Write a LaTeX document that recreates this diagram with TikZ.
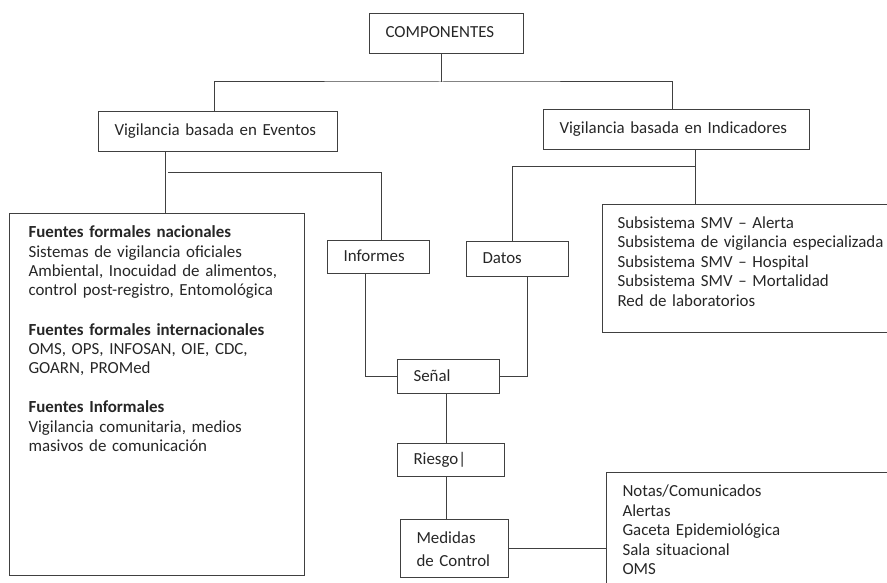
\documentclass[tikz,border=0pt]{standalone}
\usepackage{fontspec}
\setmainfont{Carlito}
\usepackage{tikz}

\begin{document}
\begin{tikzpicture}[x=1pt, y=-1pt, line width=1pt, color=black!75,
every node/.style={font=\fontsize{16.9pt}{19.5pt}\selectfont, text=black!85},
caja/.style={draw, anchor=north west, align=left, inner xsep=16pt, inner ysep=0pt, text height=12pt, text depth=3pt},
lista/.style={caja, inner ysep=12pt}]
\clip (0,0) rectangle (887,583);
\node(0)[caja, text width=122pt, minimum height=40pt] at (369,13) {COMPONENTES};
\node(1)[caja, text width=207pt, minimum height=40pt] at (98,111) {Vigilancia basada en Eventos};
\node(2)[caja, text width=234pt, minimum height=40pt] at (543,109) {Vigilancia basada en Indicadores};
\node(3)[lista, inner xsep=19pt, text width=257pt, text depth=326pt] at (9,213) {\textbf{Fuentes formales nacionales}\\Sistemas de vigilancia oficiales\\Ambiental, Inocuidad de alimentos,\\control post-registro, Entomológica\\[19.5pt]\textbf{Fuentes formales internacionales}\\OMS, OPS, INFOSAN, OIE, CDC,\\GOARN, PROMed\\[19.5pt]\textbf{Fuentes Informales}\\Vigilancia comunitaria, medios\\masivos de comunicación};
\node(4)[caja, text width=70pt, minimum height=33pt] at (327,240) {Informes};
\node(5)[caja, text width=70pt, minimum height=35pt] at (466,241) {Datos};
\node(6)[lista, inner xsep=15pt, text width=290pt, text depth=92pt] at (602,204) {Subsistema SMV – Alerta\\Subsistema de vigilancia especializada\\Subsistema SMV – Hospital\\Subsistema SMV – Mortalidad\\Red de laboratorios};
\node(7)[caja, text width=70pt, minimum height=34pt] at (397,359) {Señal};
\node(8)[caja, text width=75pt, minimum height=33pt] at (397,443) {Riesgo|};
\node(9)[lista, text width=76pt, text depth=22pt, font=\fontsize{16.9pt}{23pt}\selectfont] at (400,519) {Medidas\\de Control};
\node(10)[lista, text width=268pt, text depth=114pt] at (606,472) {Notas/Comunicados\\Alertas\\Gaceta Epidemiológica\\Sala situacional\\OMS};
% puntos de quiebre
\coordinate (r0) at (441,82);
\coordinate (r1) at (168,173);
\coordinate (r2) at (695,167);
\coordinate (e) at (165,0);
\coordinate (v) at (446,0);
\draw (0.south -| r0) -- (r0);
\draw ([xshift=-3.5pt]1.north) |- (r0) -| ([xshift=-4pt]2.north);
\draw (1.south -| e) -- (3.north -| e);
\draw (r1) -| ([xshift=3pt]4.north);
\draw ([xshift=-13pt]4.south) |- (7.west);
\draw (2.south -| r2) -- (6.north -| r2);
\draw (r2) -| ([xshift=-5pt]5.north);
\draw ([xshift=10pt]5.south) |- (7.east);
\draw (7.south -| v) -- (8.north -| v);
\draw (8.south -| v) -- (9.north -| v);
\draw (9.east) -- (10.west |- 9.east);
\end{tikzpicture}
\end{document}
